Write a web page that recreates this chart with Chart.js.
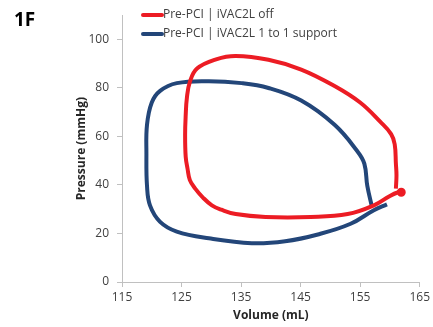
<!DOCTYPE html>
<html>
<head>
<meta charset="utf-8">
<script src="https://cdn.jsdelivr.net/npm/chart.js@4"></script>
<style>
  html, body { margin: 0; padding: 0; background: #fff; }
  #wrap { position: relative; width: 433px; height: 327px; }
  #tag { position: absolute; left: 14px; top: 6px; font: bold 19px "Open Sans", sans-serif; color: #000; }
</style>
</head>
<body>
<div id="wrap">
  <canvas id="pvChart" width="433" height="327"></canvas>
  <div id="tag">1F</div>
</div>
<script>
// 눈금
const xTicks = [115, 125, 135, 145, 155, 165];
const yTicks = [0, 20, 40, 60, 80, 100];

const seriesNames = ['Pre-PCI | iVAC2L off', 'Pre-PCI | iVAC2L 1 to 1 support'];

// iVAC2L off (red)
const offVolume   = [161.0, 161.1, 161.0, 160.8, 160.2, 158.4, 155.0, 150.7, 145.1, 139.6, 134.1, 130.8, 127.6, 126.4, 125.9, 125.7, 125.6, 125.7, 126.0, 126.4, 127.3, 128.6, 130.1, 131.7, 134.1, 139.1, 146.7, 152.9, 157.3, 160.0, 161.4, 161.9];
const offPressure = [38.5, 44.0, 48.8, 56.8, 61.0, 66.0, 74.0, 80.8, 87.6, 91.6, 93.2, 91.8, 88.0, 82.5, 76.0, 68.8, 60.8, 51.6, 46.8, 42.0, 38.5, 34.8, 31.6, 29.8, 28.0, 26.8, 26.8, 28.0, 31.6, 35.5, 37.0, 37.0];

// iVAC2L 1 to 1 support (blue)
const supVolume   = [159.5, 157.3, 153.4, 147.9, 142.4, 136.8, 129.6, 124.2, 121.4, 119.7, 119.2, 119.1, 119.2, 120.0, 121.4, 124.2, 129.6, 135.1, 139.6, 145.1, 150.7, 154.5, 155.7, 156.2, 157.0];
const supPressure = [32.0, 29.6, 24.0, 19.6, 16.8, 16.0, 18.0, 20.8, 24.8, 31.6, 39.6, 52.8, 64.8, 74.0, 78.8, 82.0, 82.8, 82.0, 80.0, 74.8, 64.8, 54.0, 48.8, 39.6, 30.8];

const RED = '#ec1c24';
const BLUE = '#234679';
const AXIS = '#c0c0c0';
const TEXT = '#404040';

function toPoints(xs, ys) {
  return xs.map((x, i) => ({ x: x, y: ys[i] }));
}

// 범례 (차트 안쪽 위)
const legendPlugin = {
  id: 'innerLegend',
  afterDraw(chart) {
    const c = chart.ctx;
    c.save();
    c.font = '12px "Open Sans", sans-serif';
    c.textBaseline = 'middle';
    chart.data.datasets.forEach((ds, i) => {
      const y = 15 + i * 19;
      c.strokeStyle = ds.borderColor;
      c.lineWidth = 4;
      c.lineCap = 'round';
      c.beginPath();
      c.moveTo(143, y);
      c.lineTo(162, y);
      c.stroke();
      c.fillStyle = TEXT;
      c.fillText(ds.label, 163, y);
    });
    c.restore();
  }
};

const chart = new Chart(document.getElementById('pvChart'), {
  type: 'scatter',
  data: {
    datasets: [
      {
        label: seriesNames[0],
        data: toPoints(offVolume, offPressure),
        showLine: true,
        borderColor: RED,
        backgroundColor: RED,
        borderWidth: 4,
        tension: 0.4,
        pointRadius: ctx => ctx.dataIndex === offVolume.length - 1 ? 2.5 : 0
      },
      {
        label: seriesNames[1],
        data: toPoints(supVolume, supPressure),
        showLine: true,
        borderColor: BLUE,
        backgroundColor: BLUE,
        borderWidth: 4,
        tension: 0.4,
        pointRadius: 0
      }
    ]
  },
  options: {
    responsive: false,
    animation: false,
    layout: { padding: { left: 70, right: 10, top: 7, bottom: 0 } },
    plugins: {
      legend: { display: false },
      tooltip: { enabled: false }
    },
    scales: {
      x: {
        type: 'linear',
        min: xTicks[0],
        max: xTicks[xTicks.length - 1],
        afterBuildTicks: s => { s.ticks = xTicks.map(v => ({ value: v })); },
        afterFit: s => { s.height = 45; },
        grid: { drawOnChartArea: false, tickLength: 5, color: AXIS },
        border: { color: AXIS },
        ticks: { color: TEXT, font: { family: 'Open Sans', size: 12 }, padding: 3 },
        title: { display: true, text: 'Volume (mL)', color: '#262626', font: { family: 'Open Sans', size: 12, weight: 'bold' }, padding: { top: 6 } }
      },
      y: {
        type: 'linear',
        min: 0,
        max: 110,
        afterBuildTicks: s => { s.ticks = yTicks.map(v => ({ value: v })); },
        afterFit: s => { s.width = 52; },
        grid: { drawOnChartArea: false, tickLength: 5, color: AXIS },
        border: { color: AXIS },
        ticks: { color: TEXT, font: { family: 'Open Sans', size: 12 }, padding: 8 },
        title: { display: true, text: 'Pressure (mmHg)', color: '#262626', font: { family: 'Open Sans', size: 12, weight: 'bold' }, padding: { bottom: 0 } }
      }
    }
  },
  plugins: [legendPlugin]
});
</script>
</body>
</html>
